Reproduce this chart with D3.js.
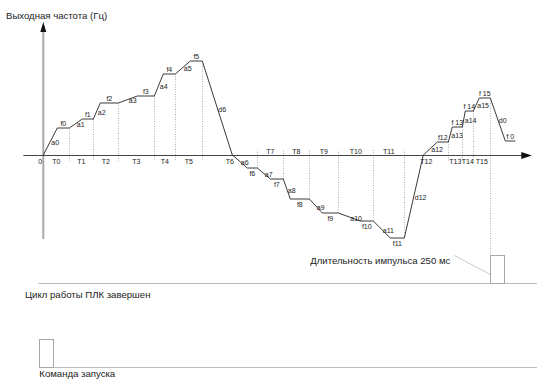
<!DOCTYPE html>
<html lang="ru">
<head>
<meta charset="utf-8">
<title>Выходная частота</title>
<script src="https://cdnjs.cloudflare.com/ajax/libs/d3/7.8.5/d3.min.js"></script>
<style>
  body { margin: 0; background: #fff; }
  svg { display: block; font-family: "Liberation Sans", Arial, sans-serif; }
  .curve { fill: none; stroke: #3a3a3a; stroke-width: 1; }
  .guide { stroke: #9a9a9a; stroke-width: 0.8; stroke-dasharray: 1,1.5; }
  .lbl { font-size: 7px; fill: #222; }
  .txt { font-size: 9.6px; fill: #222; }
  .base { stroke: #bdbdbd; stroke-width: 1; }
  .pulse { fill: none; stroke: #a8a8a8; stroke-width: 1; }
</style>
</head>
<body>
<script>
// breakpoints of the output frequency curve (time units, frequency units)
var tPts = [0, 14, 26, 39, 50, 57, 75, 94, 111, 120, 132, 147, 159, 189, 204, 214, 227, 240,
            247, 266, 279, 295, 317, 330, 347, 361, 380, 394, 405, 409, 419, 422, 430, 436, 447, 462, 472];
var fPts = [0, 27, 27, 36, 36, 52, 52, 59, 59, 81, 81, 94, 94, 0, -13, -13, -24, -24,
            -44, -44, -58, -58, -66, -66, -83, -83, 0, 13, 13, 28, 28, 44, 44, 57, 57, 14, 14];

// names of the ramps and of the constant-speed steps, in order along the curve
var rampNames = ["a0", "a1", "a2", "a3", "a4", "a5", "d6", "a6", "a7", "a8", "a9", "a10", "a11",
                 "d12", "a12", "a13", "a14", "a15", "d0"];
var stepNames = ["f0", "f1", "f2", "f3", "f4", "f5", "f6", "f7", "f8", "f9", "f10", "f11",
                 "f12", "f 13", "f 14", "f 15", "f 0"];
var segNames = ["T0", "T1", "T2", "T3", "T4", "T5", "T6", "T7", "T8", "T9", "T10", "T11",
                "T12", "T13", "T14", "T15"];

var pulseLen = 14;           // 250 ms
var startPulseAt = -4;       // start command pulse

var width = 537, height = 379;

var x = d3.scaleLinear().domain([0, 488]).range([43.3, 531.3]);
var y = d3.scaleLinear().domain([-84, 133]).range([239, 22]);

var svg = d3.select("body").append("svg")
    .attr("width", width).attr("height", height);

var pts = tPts.map(function(t, i) { return [t, fPts[i]]; });

// split curve into ramps and steps
var ramps = [], steps = [];
for (var i = 0; i < pts.length - 1; i++) {
    if (pts[i][1] === pts[i + 1][1]) steps.push([pts[i], pts[i + 1]]);
    else ramps.push([pts[i], pts[i + 1]]);
}

// segment boundaries = end of each step of the cycle (T0..T15)
var bounds = [0].concat(steps.slice(0, segNames.length).map(function(s) { return s[1][0]; }));
var levels = [0].concat(steps.slice(0, segNames.length).map(function(s) { return s[1][1]; }));

var y0 = y(0);
var pulseRow1 = 283.5, pulseRow2 = 367.5, pulseH = 28;

// dotted guides
svg.selectAll("line.guide").data(bounds.slice(1)).enter().append("line")
    .attr("class", "guide")
    .attr("x1", function(d) { return Math.round(x(d)) + 0.5; })
    .attr("x2", function(d) { return Math.round(x(d)) + 0.5; })
    .attr("y1", function(d, i) { return y(levels[i + 1]); })
    .attr("y2", function(d, i) {
        if (i === bounds.length - 2) return pulseRow1 - pulseH;
        return levels[i + 1] >= 0 ? y0 + 6 : y0 - 5;
    });

// axes
svg.append("line")
    .attr("x1", x(0)).attr("x2", x(0))
    .attr("y1", y(124)).attr("y2", y(-84))
    .style("stroke", "#aaa").style("stroke-width", 2);
svg.append("path")
    .attr("d", "M" + x(0) + "," + y(133) + "L" + (x(0) - 3) + "," + y(123) + "L" + (x(0) + 3) + "," + y(123) + "Z")
    .style("fill", "#111");
svg.append("line")
    .attr("x1", x(-20)).attr("x2", x(480))
    .attr("y1", y0 + 0.5).attr("y2", y0 + 0.5)
    .style("stroke", "#444").style("stroke-width", 1);
svg.append("path")
    .attr("d", "M" + x(488.5) + "," + (y0 + 0.5) + "L" + x(478) + "," + (y0 - 3) + "L" + x(478) + "," + (y0 + 4) + "Z")
    .style("fill", "#111");

// frequency curve
var line = d3.line().x(function(d) { return x(d[0]); }).y(function(d) { return y(d[1]); });
svg.append("path").datum(pts).attr("class", "curve").attr("d", line);

// labels
svg.append("text").attr("class", "lbl")
    .attr("x", x(-3)).attr("y", y0 + 6).attr("text-anchor", "middle")
    .attr("dominant-baseline", "central").text("0");

svg.selectAll("text.seg").data(segNames).enter().append("text")
    .attr("class", "lbl seg")
    .attr("text-anchor", "middle").attr("dominant-baseline", "central")
    .attr("x", function(d, i) { return x((bounds[i] + bounds[i + 1]) / 2); })
    .attr("y", function(d, i) { return (levels[i] < 0 && levels[i + 1] < 0) ? y0 - 4 : y0 + 6; })
    .text(function(d) { return d; });

svg.selectAll("text.step").data(steps).enter().append("text")
    .attr("class", "lbl step")
    .attr("text-anchor", "middle").attr("dominant-baseline", "central")
    .attr("x", function(d) { return x((d[0][0] + d[1][0]) / 2); })
    .attr("y", function(d) { return d[0][1] >= 0 ? y(d[0][1]) - 4.5 : y(d[0][1]) + 5.5; })
    .text(function(d, i) { return stepNames[i]; });

svg.selectAll("text.ramp").data(ramps).enter().append("text")
    .attr("class", "lbl ramp")
    .attr("dominant-baseline", "central")
    .attr("x", function(d) { return x((d[0][0] + d[1][0]) / 2) + 1; })
    .attr("y", function(d) { return y((d[0][1] + d[1][1]) / 2) + 1; })
    .text(function(d, i) { return rampNames[i]; });

// title
svg.append("text").attr("class", "txt")
    .attr("x", 6).attr("y", 19).text("Выходная частота (Гц)");

// end-of-cycle pulse row
var endT = bounds[bounds.length - 1];
svg.append("line").attr("class", "base")
    .attr("x1", x(-5)).attr("x2", width).attr("y1", pulseRow1).attr("y2", pulseRow1);
svg.append("rect").attr("class", "pulse")
    .attr("x", Math.round(x(endT)) + 0.5).attr("y", pulseRow1 - pulseH)
    .attr("width", x(endT + pulseLen) - x(endT)).attr("height", pulseH);
svg.append("line")
    .attr("x1", x(endT) - 36).attr("y1", pulseRow1 - pulseH)
    .attr("x2", x(endT)).attr("y2", pulseRow1 - 9)
    .style("stroke", "#bbb").style("stroke-width", 0.8);
svg.append("text").attr("class", "txt").attr("text-anchor", "end")
    .attr("x", x(endT) - 40).attr("y", 264).text("Длительность импульса 250 мс");
svg.append("text").attr("class", "txt")
    .attr("x", 25).attr("y", 298).text("Цикл работы ПЛК завершен");

// start command pulse row
svg.append("line").attr("class", "base")
    .attr("x1", x(startPulseAt)).attr("x2", width).attr("y1", pulseRow2).attr("y2", pulseRow2);
svg.append("rect").attr("class", "pulse")
    .attr("x", Math.round(x(startPulseAt)) + 0.5).attr("y", pulseRow2 - pulseH)
    .attr("width", x(startPulseAt + pulseLen) - x(startPulseAt)).attr("height", pulseH);
svg.append("text").attr("class", "txt")
    .attr("x", x(startPulseAt)).attr("y", 377).text("Команда запуска");
</script>
</body>
</html>
